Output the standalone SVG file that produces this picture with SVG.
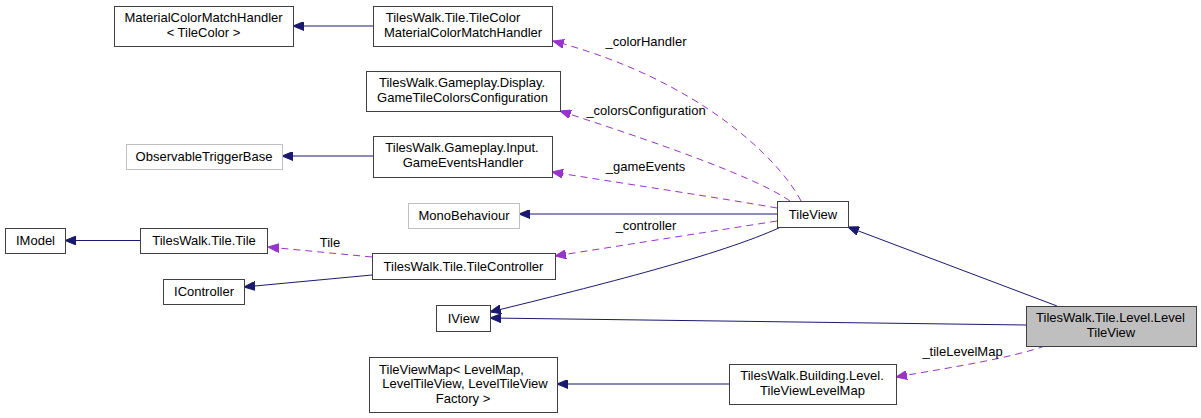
<svg xmlns="http://www.w3.org/2000/svg" width="1201" height="418" viewBox="0 0 1201 418">
<style>
text{font-family:"Liberation Sans",Arial,sans-serif;font-size:13px;fill:#000;text-anchor:middle}
.n rect{fill:#fff;stroke:#404040;stroke-width:1}
.g rect{fill:#fff;stroke:#bfbfbf;stroke-width:1}
.cur rect{fill:#bfbfbf;stroke:#404040;stroke-width:1}
.inh{fill:none;stroke:#191970;stroke-width:1;marker-end:url(#an)}
.use{fill:none;stroke:#9a32cd;stroke-width:1;stroke-dasharray:7,5;marker-end:url(#ap)}
</style>
<defs>
<marker id="an" markerUnits="userSpaceOnUse" markerWidth="12" markerHeight="9" refX="11" refY="4.5" orient="auto"><path d="M0,0 L11,4.5 L0,9 z" fill="#191970" stroke="#191970"/></marker>
<marker id="ap" markerUnits="userSpaceOnUse" markerWidth="12" markerHeight="9" refX="11" refY="4.5" orient="auto"><path d="M0,0 L11,4.5 L0,9 z" fill="#9a32cd" stroke="#9a32cd"/></marker>
</defs>
<rect width="1201" height="418" fill="#fff"/>
<g id="connectors">
<path class="inh" d="M373,26 L293,26"/>
<path class="inh" d="M373,156 L282,156"/>
<path class="inh" d="M777,214 L519,214"/>
<path class="inh" d="M140,240.5 L65,240.5"/>
<path class="inh" d="M372,275 L244,287"/>
<path class="inh" d="M781,227 C720,255 600,285 490,312"/>
<path class="inh" d="M1026,325 L490,318"/>
<path class="inh" d="M1057,306 L848,227"/>
<path class="inh" d="M729,384 L557,384"/>
<path class="use" d="M801,201 C780,160 700,80 553,41"/>
<text x="646" y="46">_colorHandler</text>
<path class="use" d="M790,201 C760,180 680,150 560,111"/>
<text x="646" y="114.5">_colorsConfiguration</text>
<path class="use" d="M777,208 C720,198 640,186 552,172"/>
<text x="645.5" y="170.5">_gameEvents</text>
<path class="use" d="M777,221 L555,256"/>
<text x="646" y="229.5">_controller</text>
<path class="use" d="M372,257 L268,247"/>
<text x="330" y="246.5">Tile</text>
<path class="use" d="M1045,346 C1010,358 960,366 896,377"/>
<text x="962.5" y="355.5">_tileLevelMap</text>
</g>
<g id="n_materialcolormatchhandler" class="n"><rect x="114.5" y="6.5" width="179" height="40"/><text x="203.5" y="21.5">MaterialColorMatchHandler</text><text x="203.5" y="36.5">&lt; TileColor &gt;</text></g>
<g id="n_tilecolormatchhandler" class="n"><rect x="373.5" y="6.5" width="179" height="40"/><text x="453" y="21.5">TilesWalk.Tile.TileColor</text><text x="463" y="36.5">MaterialColorMatchHandler</text></g>
<g id="n_gametilecolorsconfiguration" class="n"><rect x="366.5" y="71.5" width="194" height="40"/><text x="462" y="86.5">TilesWalk.Gameplay.Display.</text><text x="462.5" y="101.5">GameTileColorsConfiguration</text></g>
<g id="n_observabletriggerbase" class="g"><rect x="126.5" y="144.5" width="156" height="25"/><text x="204" y="161">ObservableTriggerBase</text></g>
<g id="n_gameeventshandler" class="n"><rect x="373.5" y="136.5" width="179" height="41"/><text x="462" y="152">TilesWalk.Gameplay.Input.</text><text x="463" y="167">GameEventsHandler</text></g>
<g id="n_monobehaviour" class="g"><rect x="408.5" y="203.5" width="111" height="25"/><text x="464" y="220">MonoBehaviour</text></g>
<g id="n_tileview" class="n"><rect x="777.5" y="201.5" width="71" height="26"/><text x="813" y="218.5">TileView</text></g>
<g id="n_imodel" class="n"><rect x="5.5" y="228.5" width="60" height="25"/><text x="35.5" y="245">IModel</text></g>
<g id="n_tile" class="n"><rect x="140.5" y="228.5" width="127" height="25"/><text x="204" y="245">TilesWalk.Tile.Tile</text></g>
<g id="n_tilecontroller" class="n"><rect x="372.5" y="253.5" width="183" height="26"/><text x="463.5" y="270.5">TilesWalk.Tile.TileController</text></g>
<g id="n_icontroller" class="n"><rect x="163.5" y="279.5" width="81" height="25"/><text x="204" y="296">IController</text></g>
<g id="n_iview" class="n"><rect x="436.5" y="305.5" width="54" height="26"/><text x="463.5" y="322.5">IView</text></g>
<g id="n_leveltileview" class="cur"><rect x="1026.5" y="306.5" width="170" height="40"/><text x="1110.5" y="321.5">TilesWalk.Tile.Level.Level</text><text x="1111" y="336.5">TileView</text></g>
<g id="n_tileviewmap" class="n"><rect x="369.5" y="357.5" width="188" height="55"/><text x="451.5" y="373.5">TileViewMap&lt; LevelMap,</text><text x="465" y="388">LevelTileView, LevelTileView</text><text x="463" y="403">Factory &gt;</text></g>
<g id="n_tileviewlevelmap" class="n"><rect x="729.5" y="364.5" width="167" height="40"/><text x="812" y="379.5">TilesWalk.Building.Level.</text><text x="812.5" y="394.5">TileViewLevelMap</text></g>
</svg>
